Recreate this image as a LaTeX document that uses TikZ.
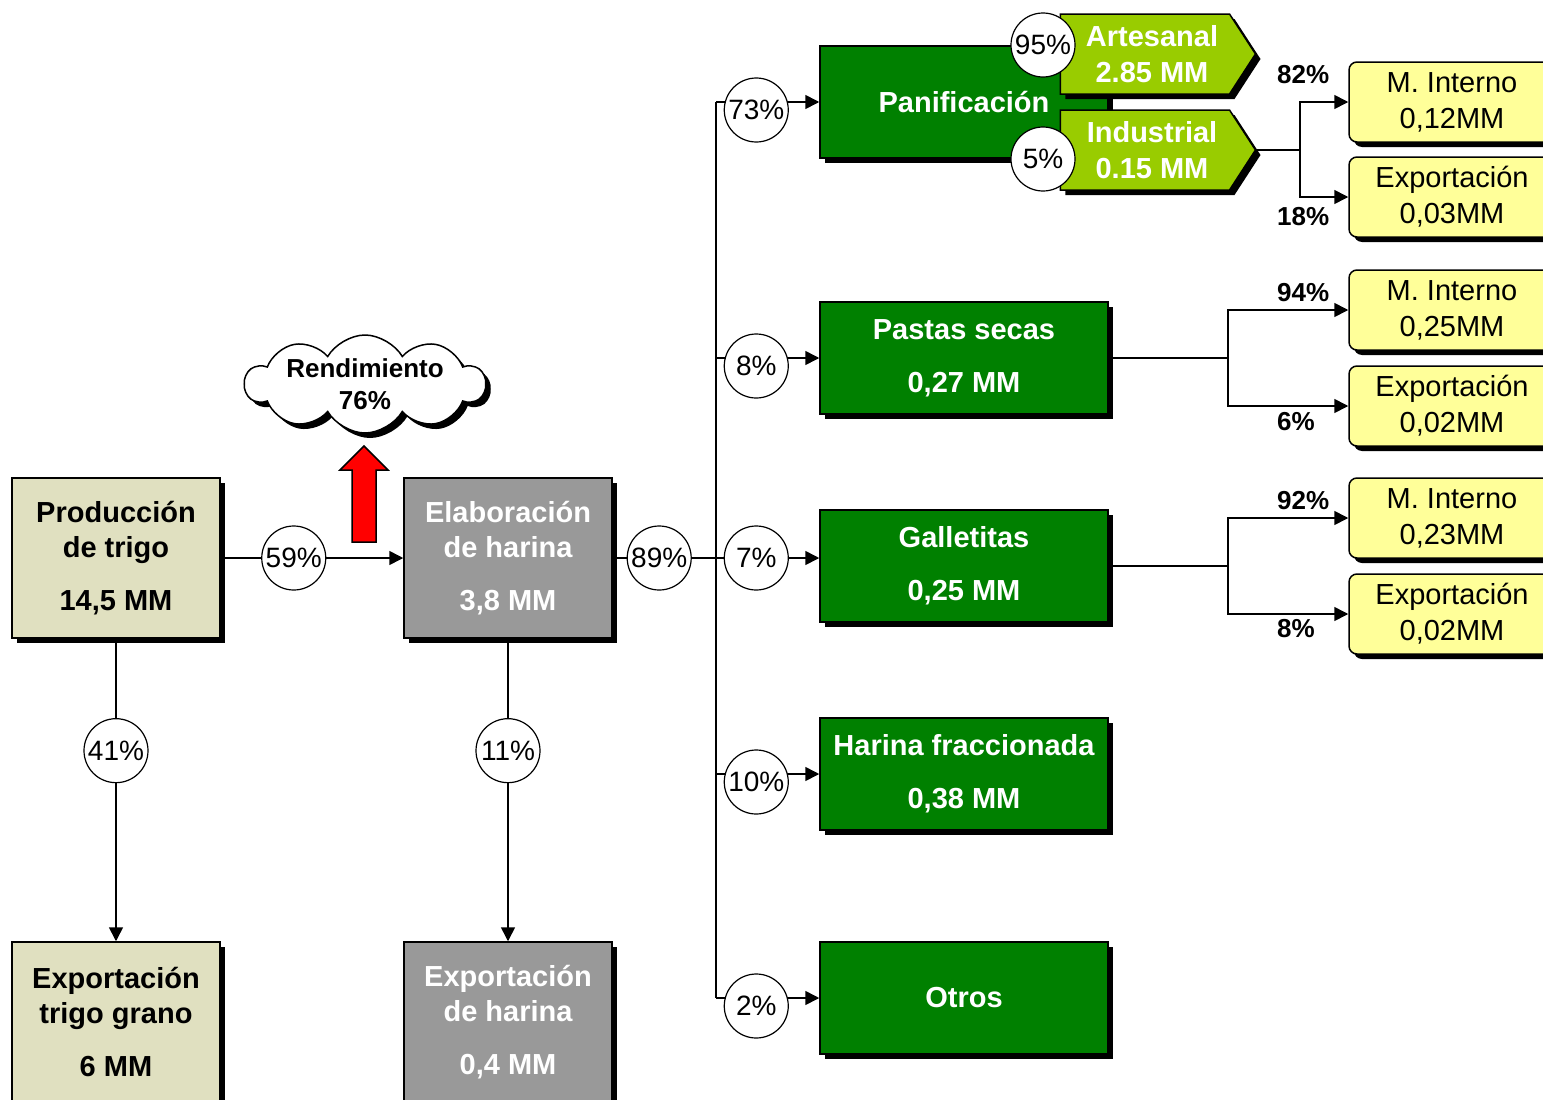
\documentclass[tikz,border=0pt]{standalone}
\usepackage{fontspec}
\setmainfont{Liberation Sans}
\usetikzlibrary{shapes.symbols,shapes.arrows,shadows,arrows.meta}

\definecolor{trigo}{RGB}{224,224,192}
\definecolor{harina}{RGB}{153,153,153}
\definecolor{verde}{RGB}{0,128,0}
\definecolor{lima}{RGB}{153,204,0}
\definecolor{amarillo}{RGB}{255,255,153}

\tikzset{
  sombra/.style={drop shadow={shadow xshift=5pt,shadow yshift=-5pt,fill=black,opacity=1}},
  caja/.style={draw,line width=1.5pt,inner sep=0pt,align=center,sombra,font=\bfseries\fontsize{29}{35}\selectfont},
  trigobox/.style={caja,fill=trigo,minimum width=208pt,minimum height=160pt},
  harinabox/.style={caja,fill=harina,text=white,minimum width=208pt,minimum height=160pt},
  verdebox/.style={caja,fill=verde,text=white,minimum width=288pt,minimum height=112pt},
  limabox/.style={caja,signal,signal to=east,signal pointer angle=114,fill=lima,text=white,minimum width=195pt,minimum height=80pt,font=\bfseries\fontsize{29}{36}\selectfont},
  mercado/.style={draw,line width=1.5pt,rounded corners=8pt,fill=amarillo,sombra,align=center,inner sep=0pt,minimum width=206pt,minimum height=80pt,font=\fontsize{29}{36}\selectfont},
  pct/.style={circle,draw,line width=1.2pt,fill=white,inner sep=0pt,minimum size=64pt,font=\fontsize{28}{34}\selectfont},
  cuota/.style={anchor=west,inner sep=0pt,font=\bfseries\fontsize{26}{30}\selectfont},
  flujo/.style={line width=1.6pt,-{Triangle[length=14pt,width=14pt]}},
  linea/.style={line width=1.6pt},
}

\begin{document}
\begin{tikzpicture}[x=1pt,y=-1pt] % cadena del trigo
  \useasboundingbox (0,0) rectangle (1543,1100);
  \clip (0,0) rectangle (1543,1100);

  \node[name=prod, trigobox] at (116,558) {Producción\\de trigo\\[18pt]14,5 MM};
  \node[name=exptrigo, trigobox] at (116,1022) {Exportación\\trigo grano\\[18pt]6 MM};
  \node[name=elab, harinabox] at (508,558) {Elaboración\\de harina\\[18pt]3,8 MM};
  \node[name=expharina, harinabox] at (508,1022) {Exportación\\de harina\\[18pt]0,4 MM};

  \node[name=rend, cloud, cloud puffs=10, cloud puff arc=120, aspect=2.4, draw, line width=1.5pt, fill=white, sombra, minimum width=240pt, minimum height=98pt, inner sep=0pt] at (365,384) {};
  \node[name=rendtxt, align=center, font=\bfseries\fontsize{26}{32}\selectfont] at (rend.center) {Rendimiento\\76\%};
  \draw[line width=1.5pt, fill=red] (352,542) -- (352,470) -- (340,470) -- (364,446) -- (388,470) -- (376,470) -- (376,542) -- cycle;

  \draw[flujo] (prod) -- node[pct, pos=0.4]{59\%} (elab);
  \draw[flujo] (prod) -- node[pct, pos=0.37]{41\%} (exptrigo);
  \draw[flujo] (elab) -- node[pct, pos=0.37]{11\%} (expharina);

  \node[name=pani, verdebox] at (964,102) {Panificación};
  \node[name=pastas, verdebox] at (964,358) {Pastas secas\\[18pt]0,27 MM};
  \node[name=gall, verdebox] at (964,566) {Galletitas\\[18pt]0,25 MM};
  \node[name=fracc, verdebox] at (964,774) {Harina fraccionada\\[18pt]0,38 MM};
  \node[name=otros, verdebox] at (964,998) {Otros};

  \node[name=arte, limabox] at (1145,54) {\hspace*{14pt}Artesanal\\\hspace*{14pt}2.85 MM};
  \node[name=indu, limabox] at (1145,150) {\hspace*{14pt}Industrial\\\hspace*{14pt}0.15 MM};
  \node[name=p95, pct] at (1043,45) {95\%};
  \node[name=p5, pct] at (1043,159) {5\%};

  % reparto de la harina
  \coordinate (bus) at (716,558);
  \coordinate (b1) at (716,102);
  \coordinate (b2) at (716,358);
  \coordinate (b3) at (716,558);
  \coordinate (b4) at (716,774);
  \coordinate (b5) at (716,998);
  \draw[linea] (elab) -- node[pct, pos=0.45]{89\%} (bus);
  \draw[linea] (b1) -- (b5);
  \draw[flujo] (b1) -- node[pct, pos=0.39, yshift=-8pt]{73\%} (pani);
  \draw[flujo] (b2) -- node[pct, pos=0.39, yshift=-8pt]{8\%} (pastas);
  \draw[flujo] (b3) -- node[pct, pos=0.39]{7\%} (gall.west |- b3);
  \draw[flujo] (b4) -- node[pct, pos=0.39, yshift=-8pt]{10\%} (fracc);
  \draw[flujo] (b5) -- node[pct, pos=0.39, yshift=-8pt]{2\%} (otros);

  % mercados
  \node[name=mi1, mercado] at (1452,102) {M. Interno\\0,12MM};
  \node[name=ex1, mercado] at (1452,197) {Exportación\\0,03MM};
  \node[name=mi2, mercado] at (1452,310) {M. Interno\\0,25MM};
  \node[name=ex2, mercado] at (1452,406) {Exportación\\0,02MM};
  \node[name=mi3, mercado] at (1452,518) {M. Interno\\0,23MM};
  \node[name=ex3, mercado] at (1452,614) {Exportación\\0,02MM};

  \coordinate (j1) at (1300,150);
  \coordinate (j2) at (1228,358);
  \coordinate (j3) at (1228,566);
  \draw[linea] (indu) -- (j1);
  \draw[flujo] (j1) |- (mi1);
  \draw[flujo] (j1) |- (ex1);
  \draw[linea] (pastas) -- (j2);
  \draw[flujo] (j2) |- (mi2);
  \draw[flujo] (j2) |- (ex2);
  \draw[linea] (gall) -- (j3);
  \draw[flujo] (j3) |- (mi3);
  \draw[flujo] (j3) |- (ex3);

  \node[name=c82, cuota] at (1277,75) {82\%};
  \node[name=c18, cuota] at (1277,217) {18\%};
  \node[name=c94, cuota] at (1277,293) {94\%};
  \node[name=c6, cuota] at (1277,422) {6\%};
  \node[name=c92, cuota] at (1277,501) {92\%};
  \node[name=c8, cuota] at (1277,629) {8\%};
\end{tikzpicture}
\end{document}
